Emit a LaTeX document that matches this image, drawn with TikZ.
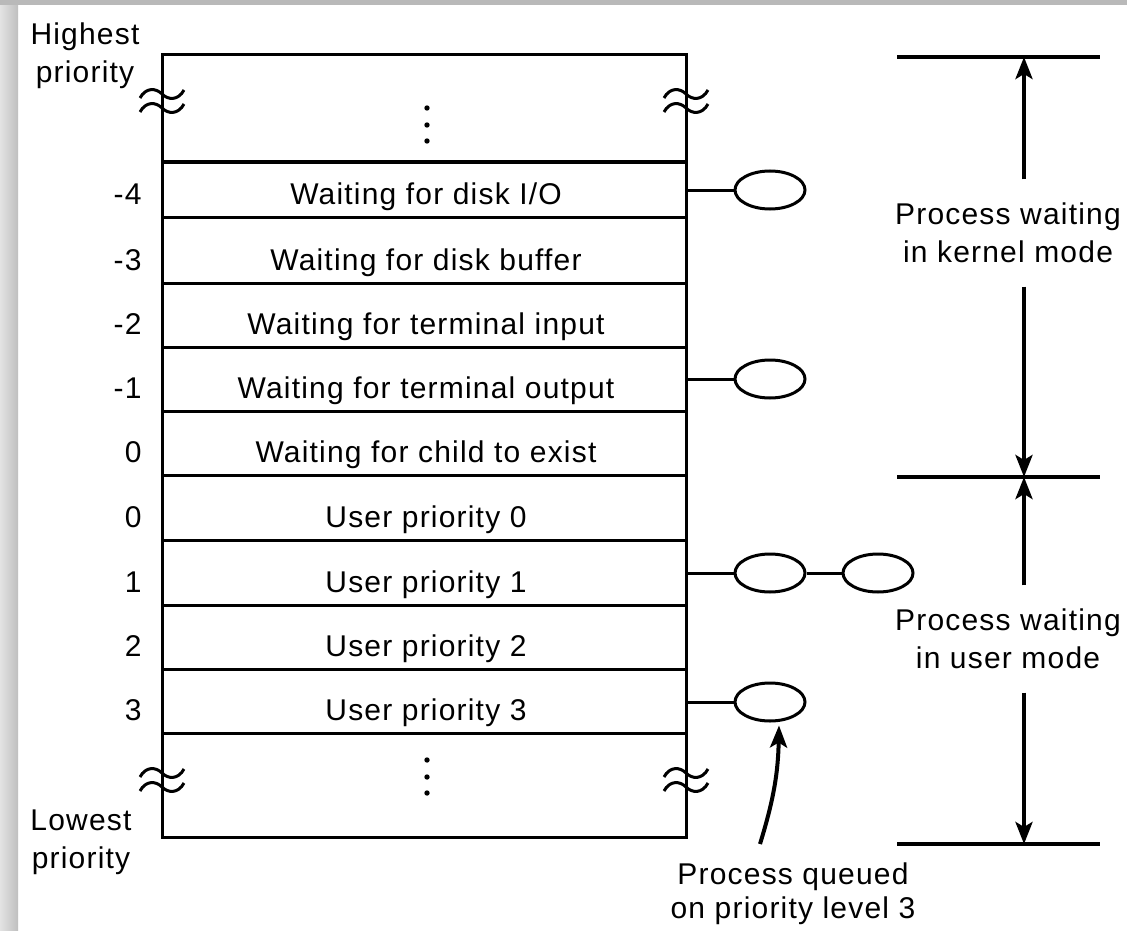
\documentclass[tikz,border=0pt]{standalone}
\usepackage{fontspec}
\setmainfont{Liberation Sans}[LetterSpace=4]
\usetikzlibrary{arrows.meta}
\usetikzlibrary{shapes.geometric}

\begin{document}
\begin{tikzpicture}[x=1pt, y=-1pt, line width=3pt, font=\fontsize{30}{38}\selectfont,
    proc/.style={draw, ellipse, minimum width=70pt, minimum height=38pt, inner sep=0pt},
    arr/.style={-{Stealth[length=22pt, width=17pt, inset=5pt]}, line width=4pt},
    bar/.style={line width=4.5pt},
    side/.style={align=center, inner xsep=0pt, inner ysep=22pt},
    lbl/.style={align=center, inner sep=0pt},
    brk/.pic={
        \draw (-22,-3) .. controls (-16,-14) and (-6,-13) .. (0,-7) .. controls (6,-1) and (16,0) .. (22,-11);
        \draw (-22,11) .. controls (-16,0) and (-6,1) .. (0,7) .. controls (6,13) and (16,14) .. (22,3);
    }]
    \useasboundingbox (0,0) rectangle (1127,931);
    \fill[white] (0,0) rectangle (1127,931);
    % page frame
    \shade[left color=gray!22, right color=gray!50] (0,0) rectangle (18,931);
    \fill[gray!55] (0,0) rectangle (1127,5);

    % priority table
    \node[draw, minimum width=524pt, minimum height=782pt, inner sep=0pt, outer sep=0pt, anchor=north west] (tbl) at (162,55) {};
    \foreach \lab/\txt/\yb [count=\i] in {
        -4/{Waiting for disk I/O}/217,
        -3/{Waiting for disk buffer}/283,
        -2/{Waiting for terminal input}/347,
        -1/{Waiting for terminal output}/411,
        0/{Waiting for child to exist}/475,
        0/{User priority 0}/540,
        1/{User priority 1}/605,
        2/{User priority 2}/669,
        3/{User priority 3}/733} {
        \node[anchor=base east, inner sep=0pt] (num\i) at (143,\yb-13) {\lab};
        \node[anchor=base, inner sep=0pt] (row\i) at (426,\yb-13) {\txt};
        \draw (tbl.west |- 0,\yb) -- (tbl.east |- 0,\yb);
    }
    \draw (tbl.west |- 0,162) -- (tbl.east |- 0,162);
    \foreach \dy in {0,17,33} {
        \fill (427,108+\dy) circle (2.7);
        \fill (427,760+\dy) circle (2.7);
    }
    \pic at (162,101) {brk};
    \pic at (686,101) {brk};
    \pic at (162,780) {brk};
    \pic at (686,780) {brk};

    \node[lbl] (high) at (85,56) {Highest\\priority};
    \node[lbl] (low) at (81,842) {Lowest\\priority};

    % queued processes
    \node[proc] (q1) at (770,190) {};
    \node[proc] (q2) at (770,379) {};
    \node[proc] (q3) at (770,573) {};
    \node[proc] (q4) at (878,573) {};
    \node[proc] (q5) at (770,702) {};
    \draw (tbl.east |- q1) -- (q1);
    \draw (tbl.east |- q2) -- (q2);
    \draw (tbl.east |- q3) -- (q3);
    \draw (q3) -- (q4);
    \draw (tbl.east |- q5) -- (q5);

    \node[lbl, font=\fontsize{30}{34}\selectfont] (qtxt) at (793,894) {Process queued\\on priority level 3};
    \coordinate (qa) at (760,844);
    \draw[arr] (qa) to[bend right=8] ([xshift=9pt, yshift=-3pt]q5.south);

    % kernel / user ranges
    \coordinate (kt) at (1024,57);
    \coordinate (md) at (1024,477);
    \coordinate (ub) at (1024,844);
    \draw[bar] (897,57) -- (1100,57);
    \draw[bar] (897,477) -- (1100,477);
    \draw[bar] (897,844) -- (1100,844);
    \node[side] (kern) at (1008,233) {Process waiting\\in kernel mode};
    \node[side] (user) at (1008,639) {Process waiting\\in user mode};
    \draw[arr] (kern.north -| kt) -- (kt);
    \draw[arr] (kern.south -| md) -- (md);
    \draw[arr] (user.north -| md) -- (md);
    \draw[arr] (user.south -| ub) -- (ub);
\end{tikzpicture}
\end{document}
